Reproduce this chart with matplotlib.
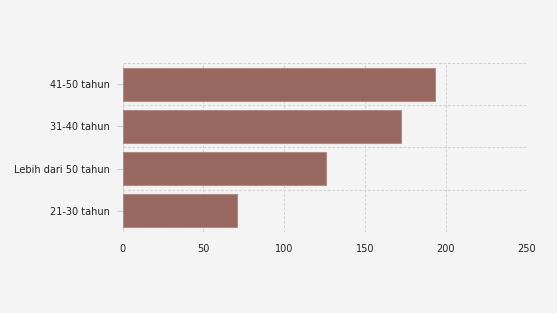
import matplotlib
matplotlib.use("Agg")
import matplotlib.pyplot as plt
from matplotlib.ticker import FixedLocator

categories = ["21-30 tahun", "Lebih dari 50 tahun", "31-40 tahun", "41-50 tahun"]
values = [71, 126, 172, 193]
x_ticks = [0, 50, 100, 150, 200, 250]

bg = "#f4f4f4"
fig = plt.figure(figsize=(5.57, 3.13), dpi=100, facecolor=bg)
ax = fig.add_axes([122.5/557, (313-231.7)/313, (526.7-122.5)/557, (231.7-63.3)/313])
ax.set_facecolor(bg)

y = list(range(len(categories)))
ax.barh(y, values, height=0.8, color="#976760", edgecolor="#b08a84", linewidth=0.8, zorder=3)

ax.set_xlim(0, 250)
ax.set_ylim(-0.5, len(categories) - 0.5)
ax.set_xticks(x_ticks)
ax.set_xticklabels([str(t) for t in x_ticks])
ax.set_yticks(y)
ax.set_yticklabels(categories)

ax.yaxis.set_minor_locator(FixedLocator([i - 0.5 for i in range(len(categories) + 1)]))
ax.grid(axis="x", which="major", color="#d2d2d2", linestyle=(0, (2.5, 1.5)), linewidth=0.8, zorder=0)
ax.grid(axis="y", which="minor", color="#d2d2d2", linestyle=(0, (2.5, 1.5)), linewidth=0.8, zorder=0)
ax.tick_params(axis="y", which="minor", length=0)
ax.tick_params(axis="y", which="major", length=4, color="#cccccc", labelsize=7, labelcolor="#222222", pad=5)
ax.tick_params(axis="x", which="major", length=0, labelsize=7, labelcolor="#222222", pad=9)
for s in ax.spines.values():
    s.set_visible(False)
ax.axvline(0, color="#d2d2d2", linewidth=0.8, zorder=1)

fig.savefig("out.png", dpi=100, facecolor=bg)
